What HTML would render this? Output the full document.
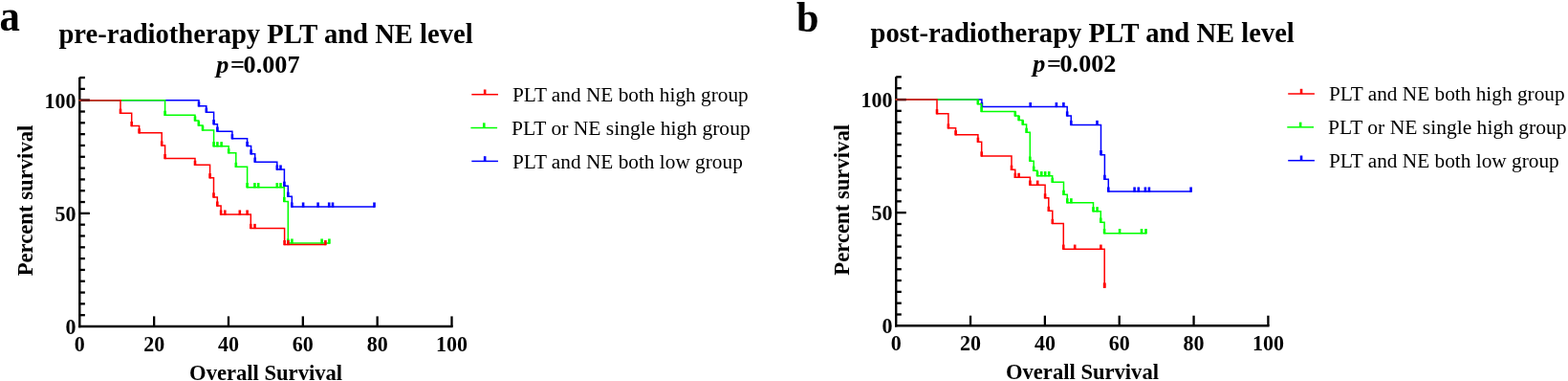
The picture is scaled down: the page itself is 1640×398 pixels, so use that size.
<!DOCTYPE html>
<html><head><meta charset="utf-8"><title>Kaplan-Meier survival curves</title>
<style>
html,body{margin:0;padding:0;background:#fff;}
body{width:1640px;height:398px;overflow:hidden;}
svg{display:block;}
</style></head>
<body>
<svg width="1640" height="398" viewBox="0 0 1640 398" font-family="'Liberation Serif', 'Times New Roman', serif" fill="#000">
<text transform="translate(-0.6,32.4) scale(0.91,1)" font-size="47" font-weight="bold">a</text>
<line x1="83.30" y1="80.87" x2="83.30" y2="342.20" stroke="#000" stroke-width="2.4"/>
<line x1="82.10" y1="341.00" x2="473.70" y2="341.00" stroke="#000" stroke-width="2.4"/>
<line x1="83.30" y1="329.19" x2="88.90" y2="329.19" stroke="#000" stroke-width="2.3"/>
<line x1="83.30" y1="317.37" x2="88.90" y2="317.37" stroke="#000" stroke-width="2.3"/>
<line x1="83.30" y1="305.56" x2="88.90" y2="305.56" stroke="#000" stroke-width="2.3"/>
<line x1="83.30" y1="293.74" x2="88.90" y2="293.74" stroke="#000" stroke-width="2.3"/>
<line x1="83.30" y1="281.93" x2="88.90" y2="281.93" stroke="#000" stroke-width="2.3"/>
<line x1="83.30" y1="270.11" x2="88.90" y2="270.11" stroke="#000" stroke-width="2.3"/>
<line x1="83.30" y1="258.30" x2="88.90" y2="258.30" stroke="#000" stroke-width="2.3"/>
<line x1="83.30" y1="246.48" x2="88.90" y2="246.48" stroke="#000" stroke-width="2.3"/>
<line x1="83.30" y1="234.67" x2="88.90" y2="234.67" stroke="#000" stroke-width="2.3"/>
<line x1="83.30" y1="222.85" x2="93.90" y2="222.85" stroke="#000" stroke-width="2.3"/>
<line x1="83.30" y1="211.03" x2="88.90" y2="211.03" stroke="#000" stroke-width="2.3"/>
<line x1="83.30" y1="199.22" x2="88.90" y2="199.22" stroke="#000" stroke-width="2.3"/>
<line x1="83.30" y1="187.41" x2="88.90" y2="187.41" stroke="#000" stroke-width="2.3"/>
<line x1="83.30" y1="175.59" x2="88.90" y2="175.59" stroke="#000" stroke-width="2.3"/>
<line x1="83.30" y1="163.78" x2="88.90" y2="163.78" stroke="#000" stroke-width="2.3"/>
<line x1="83.30" y1="151.96" x2="88.90" y2="151.96" stroke="#000" stroke-width="2.3"/>
<line x1="83.30" y1="140.15" x2="88.90" y2="140.15" stroke="#000" stroke-width="2.3"/>
<line x1="83.30" y1="128.33" x2="88.90" y2="128.33" stroke="#000" stroke-width="2.3"/>
<line x1="83.30" y1="116.52" x2="88.90" y2="116.52" stroke="#000" stroke-width="2.3"/>
<line x1="83.30" y1="104.70" x2="93.90" y2="104.70" stroke="#000" stroke-width="2.3"/>
<line x1="83.30" y1="92.88" x2="88.90" y2="92.88" stroke="#000" stroke-width="2.3"/>
<line x1="83.30" y1="81.07" x2="88.90" y2="81.07" stroke="#000" stroke-width="2.3"/>
<line x1="161.14" y1="341.00" x2="161.14" y2="330.40" stroke="#000" stroke-width="2.3"/>
<line x1="238.98" y1="341.00" x2="238.98" y2="330.40" stroke="#000" stroke-width="2.3"/>
<line x1="316.82" y1="341.00" x2="316.82" y2="330.40" stroke="#000" stroke-width="2.3"/>
<line x1="394.66" y1="341.00" x2="394.66" y2="330.40" stroke="#000" stroke-width="2.3"/>
<line x1="472.50" y1="341.00" x2="472.50" y2="330.40" stroke="#000" stroke-width="2.3"/>
<text transform="translate(79.60,112.70) scale(1,1.07)" text-anchor="end" font-size="22" font-weight="bold">100</text>
<text transform="translate(79.60,230.85) scale(1,1.07)" text-anchor="end" font-size="22" font-weight="bold">50</text>
<text transform="translate(79.60,349.00) scale(1,1.07)" text-anchor="end" font-size="22" font-weight="bold">0</text>
<text transform="translate(83.30,366.60) scale(1,1.07)" text-anchor="middle" font-size="22" font-weight="bold">0</text>
<text transform="translate(161.14,366.60) scale(1,1.07)" text-anchor="middle" font-size="22" font-weight="bold">20</text>
<text transform="translate(238.98,366.60) scale(1,1.07)" text-anchor="middle" font-size="22" font-weight="bold">40</text>
<text transform="translate(316.82,366.60) scale(1,1.07)" text-anchor="middle" font-size="22" font-weight="bold">60</text>
<text transform="translate(394.66,366.60) scale(1,1.07)" text-anchor="middle" font-size="22" font-weight="bold">80</text>
<text transform="translate(472.50,366.60) scale(1,1.07)" text-anchor="middle" font-size="22" font-weight="bold">100</text>
<text x="278.10" y="396.90" text-anchor="middle" font-size="22.6" font-weight="bold">Overall Survival</text>
<text transform="translate(34.00,209.50) rotate(-90)" x="0" y="0" text-anchor="middle" font-size="22.7" font-weight="bold">Percent survival</text>
<text x="278.00" y="44.70" text-anchor="middle" font-size="28.6" font-weight="bold">pre-radiotherapy PLT and NE level</text>
<text x="226.30" y="75.60" font-size="26.2" font-weight="bold" font-style="italic">p</text>
<text x="241.10" y="75.60" font-size="26.2" font-weight="bold">=</text>
<text x="254.60" y="75.60" font-size="26.2" font-weight="bold">0.007</text>
<line x1="493.30" y1="98.70" x2="521.00" y2="98.70" stroke="#ff0000" stroke-width="1.5"/>
<line x1="507.15" y1="98.70" x2="507.15" y2="93.50" stroke="#ff0000" stroke-width="2.6"/>
<text x="536.00" y="105.80" font-size="21.3">PLT and NE both high group</text>
<line x1="492.40" y1="133.55" x2="520.10" y2="133.55" stroke="#00ff00" stroke-width="1.5"/>
<line x1="506.25" y1="133.55" x2="506.25" y2="128.35" stroke="#00ff00" stroke-width="2.6"/>
<text x="535.10" y="140.65" font-size="21.55">PLT or NE single high group</text>
<line x1="493.30" y1="168.40" x2="521.00" y2="168.40" stroke="#0000ff" stroke-width="1.5"/>
<line x1="507.15" y1="168.40" x2="507.15" y2="163.20" stroke="#0000ff" stroke-width="2.6"/>
<text x="536.00" y="175.50" font-size="21.3">PLT and NE both low group</text>
<text transform="translate(833.0,32.7) scale(0.94,1)" font-size="45" font-weight="bold">b</text>
<g transform="translate(853.9,-0.7)">
<line x1="83.30" y1="80.87" x2="83.30" y2="342.20" stroke="#000" stroke-width="2.4"/>
<line x1="82.10" y1="341.00" x2="473.70" y2="341.00" stroke="#000" stroke-width="2.4"/>
<line x1="83.30" y1="329.19" x2="88.90" y2="329.19" stroke="#000" stroke-width="2.3"/>
<line x1="83.30" y1="317.37" x2="88.90" y2="317.37" stroke="#000" stroke-width="2.3"/>
<line x1="83.30" y1="305.56" x2="88.90" y2="305.56" stroke="#000" stroke-width="2.3"/>
<line x1="83.30" y1="293.74" x2="88.90" y2="293.74" stroke="#000" stroke-width="2.3"/>
<line x1="83.30" y1="281.93" x2="88.90" y2="281.93" stroke="#000" stroke-width="2.3"/>
<line x1="83.30" y1="270.11" x2="88.90" y2="270.11" stroke="#000" stroke-width="2.3"/>
<line x1="83.30" y1="258.30" x2="88.90" y2="258.30" stroke="#000" stroke-width="2.3"/>
<line x1="83.30" y1="246.48" x2="88.90" y2="246.48" stroke="#000" stroke-width="2.3"/>
<line x1="83.30" y1="234.67" x2="88.90" y2="234.67" stroke="#000" stroke-width="2.3"/>
<line x1="83.30" y1="222.85" x2="93.90" y2="222.85" stroke="#000" stroke-width="2.3"/>
<line x1="83.30" y1="211.03" x2="88.90" y2="211.03" stroke="#000" stroke-width="2.3"/>
<line x1="83.30" y1="199.22" x2="88.90" y2="199.22" stroke="#000" stroke-width="2.3"/>
<line x1="83.30" y1="187.41" x2="88.90" y2="187.41" stroke="#000" stroke-width="2.3"/>
<line x1="83.30" y1="175.59" x2="88.90" y2="175.59" stroke="#000" stroke-width="2.3"/>
<line x1="83.30" y1="163.78" x2="88.90" y2="163.78" stroke="#000" stroke-width="2.3"/>
<line x1="83.30" y1="151.96" x2="88.90" y2="151.96" stroke="#000" stroke-width="2.3"/>
<line x1="83.30" y1="140.15" x2="88.90" y2="140.15" stroke="#000" stroke-width="2.3"/>
<line x1="83.30" y1="128.33" x2="88.90" y2="128.33" stroke="#000" stroke-width="2.3"/>
<line x1="83.30" y1="116.52" x2="88.90" y2="116.52" stroke="#000" stroke-width="2.3"/>
<line x1="83.30" y1="104.70" x2="93.90" y2="104.70" stroke="#000" stroke-width="2.3"/>
<line x1="83.30" y1="92.88" x2="88.90" y2="92.88" stroke="#000" stroke-width="2.3"/>
<line x1="83.30" y1="81.07" x2="88.90" y2="81.07" stroke="#000" stroke-width="2.3"/>
<line x1="161.14" y1="341.00" x2="161.14" y2="330.40" stroke="#000" stroke-width="2.3"/>
<line x1="238.98" y1="341.00" x2="238.98" y2="330.40" stroke="#000" stroke-width="2.3"/>
<line x1="316.82" y1="341.00" x2="316.82" y2="330.40" stroke="#000" stroke-width="2.3"/>
<line x1="394.66" y1="341.00" x2="394.66" y2="330.40" stroke="#000" stroke-width="2.3"/>
<line x1="472.50" y1="341.00" x2="472.50" y2="330.40" stroke="#000" stroke-width="2.3"/>
<text transform="translate(79.60,112.70) scale(1,1.07)" text-anchor="end" font-size="22" font-weight="bold">100</text>
<text transform="translate(79.60,230.85) scale(1,1.07)" text-anchor="end" font-size="22" font-weight="bold">50</text>
<text transform="translate(79.60,349.00) scale(1,1.07)" text-anchor="end" font-size="22" font-weight="bold">0</text>
<text transform="translate(83.30,366.60) scale(1,1.07)" text-anchor="middle" font-size="22" font-weight="bold">0</text>
<text transform="translate(161.14,366.60) scale(1,1.07)" text-anchor="middle" font-size="22" font-weight="bold">20</text>
<text transform="translate(238.98,366.60) scale(1,1.07)" text-anchor="middle" font-size="22" font-weight="bold">40</text>
<text transform="translate(316.82,366.60) scale(1,1.07)" text-anchor="middle" font-size="22" font-weight="bold">60</text>
<text transform="translate(394.66,366.60) scale(1,1.07)" text-anchor="middle" font-size="22" font-weight="bold">80</text>
<text transform="translate(472.50,366.60) scale(1,1.07)" text-anchor="middle" font-size="22" font-weight="bold">100</text>
<text x="278.10" y="396.90" text-anchor="middle" font-size="22.6" font-weight="bold">Overall Survival</text>
<text transform="translate(34.00,209.50) rotate(-90)" x="0" y="0" text-anchor="middle" font-size="22.7" font-weight="bold">Percent survival</text>
<text x="278.30" y="44.70" text-anchor="middle" font-size="28.6" font-weight="bold">post-radiotherapy PLT and NE level</text>
<text x="226.30" y="75.60" font-size="26.2" font-weight="bold" font-style="italic">p</text>
<text x="241.10" y="75.60" font-size="26.2" font-weight="bold">=</text>
<text x="254.60" y="75.60" font-size="26.2" font-weight="bold">0.002</text>
<line x1="493.30" y1="98.70" x2="521.00" y2="98.70" stroke="#ff0000" stroke-width="1.5"/>
<line x1="507.15" y1="98.70" x2="507.15" y2="93.50" stroke="#ff0000" stroke-width="2.6"/>
<text x="536.00" y="105.80" font-size="21.3">PLT and NE both high group</text>
<line x1="492.40" y1="133.55" x2="520.10" y2="133.55" stroke="#00ff00" stroke-width="1.5"/>
<line x1="506.25" y1="133.55" x2="506.25" y2="128.35" stroke="#00ff00" stroke-width="2.6"/>
<text x="535.10" y="140.65" font-size="21.55">PLT or NE single high group</text>
<line x1="493.30" y1="168.40" x2="521.00" y2="168.40" stroke="#0000ff" stroke-width="1.5"/>
<line x1="507.15" y1="168.40" x2="507.15" y2="163.20" stroke="#0000ff" stroke-width="2.6"/>
<text x="536.00" y="175.50" font-size="21.3">PLT and NE both low group</text>
</g>
<path d="M83.30,104.70 H208.00 V110.85 H215.80 V117.15 H223.60 V129.65 H227.40 V137.15 H242.90 V144.75 H258.60 V152.55 H262.60 V160.85 H266.70 V169.15 H289.80 V177.05 H297.40 V194.25 H301.30 V205.25 H305.30 V216.05 H391.50" fill="none" stroke="#0000ff" stroke-width="1.5" stroke-linejoin="miter" stroke-linecap="square"/>
<line x1="208.00" y1="111.45" x2="208.00" y2="106.25" stroke="#0000ff" stroke-width="2.6"/>
<line x1="215.80" y1="117.75" x2="215.80" y2="112.55" stroke="#0000ff" stroke-width="2.6"/>
<line x1="223.60" y1="130.25" x2="223.60" y2="125.05" stroke="#0000ff" stroke-width="2.6"/>
<line x1="227.40" y1="137.75" x2="227.40" y2="132.55" stroke="#0000ff" stroke-width="2.6"/>
<line x1="242.90" y1="145.35" x2="242.90" y2="140.15" stroke="#0000ff" stroke-width="2.6"/>
<line x1="258.60" y1="153.15" x2="258.60" y2="147.95" stroke="#0000ff" stroke-width="2.6"/>
<line x1="262.60" y1="161.45" x2="262.60" y2="156.25" stroke="#0000ff" stroke-width="2.6"/>
<line x1="266.70" y1="169.75" x2="266.70" y2="164.55" stroke="#0000ff" stroke-width="2.6"/>
<line x1="289.80" y1="177.65" x2="289.80" y2="172.45" stroke="#0000ff" stroke-width="2.6"/>
<line x1="297.40" y1="194.85" x2="297.40" y2="189.65" stroke="#0000ff" stroke-width="2.6"/>
<line x1="301.30" y1="205.85" x2="301.30" y2="200.65" stroke="#0000ff" stroke-width="2.6"/>
<line x1="305.30" y1="216.65" x2="305.30" y2="211.45" stroke="#0000ff" stroke-width="2.6"/>
<line x1="293.50" y1="177.65" x2="293.50" y2="172.45" stroke="#0000ff" stroke-width="2.6"/>
<line x1="317.10" y1="216.65" x2="317.10" y2="211.45" stroke="#0000ff" stroke-width="2.6"/>
<line x1="332.60" y1="216.65" x2="332.60" y2="211.45" stroke="#0000ff" stroke-width="2.6"/>
<line x1="344.20" y1="216.65" x2="344.20" y2="211.45" stroke="#0000ff" stroke-width="2.6"/>
<line x1="348.00" y1="216.65" x2="348.00" y2="211.45" stroke="#0000ff" stroke-width="2.6"/>
<line x1="391.50" y1="216.65" x2="391.50" y2="211.45" stroke="#0000ff" stroke-width="2.6"/>
<path d="M83.30,104.70 H172.60 V120.35 H204.00 V125.95 H207.80 V131.05 H212.00 V135.95 H223.60 V152.75 H239.20 V159.75 H246.80 V174.35 H258.60 V195.65 H297.30 V210.45 H301.30 V254.05 H344.40" fill="none" stroke="#00ff00" stroke-width="1.5" stroke-linejoin="miter" stroke-linecap="square"/>
<line x1="172.60" y1="120.95" x2="172.60" y2="115.75" stroke="#00ff00" stroke-width="2.6"/>
<line x1="204.00" y1="126.55" x2="204.00" y2="121.35" stroke="#00ff00" stroke-width="2.6"/>
<line x1="207.80" y1="131.65" x2="207.80" y2="126.45" stroke="#00ff00" stroke-width="2.6"/>
<line x1="212.00" y1="136.55" x2="212.00" y2="131.35" stroke="#00ff00" stroke-width="2.6"/>
<line x1="223.60" y1="153.35" x2="223.60" y2="148.15" stroke="#00ff00" stroke-width="2.6"/>
<line x1="239.20" y1="160.35" x2="239.20" y2="155.15" stroke="#00ff00" stroke-width="2.6"/>
<line x1="246.80" y1="174.95" x2="246.80" y2="169.75" stroke="#00ff00" stroke-width="2.6"/>
<line x1="258.60" y1="196.25" x2="258.60" y2="191.05" stroke="#00ff00" stroke-width="2.6"/>
<line x1="297.30" y1="211.05" x2="297.30" y2="205.85" stroke="#00ff00" stroke-width="2.6"/>
<line x1="301.30" y1="254.65" x2="301.30" y2="249.45" stroke="#00ff00" stroke-width="2.6"/>
<line x1="227.40" y1="153.35" x2="227.40" y2="148.15" stroke="#00ff00" stroke-width="2.6"/>
<line x1="231.60" y1="153.35" x2="231.60" y2="148.15" stroke="#00ff00" stroke-width="2.6"/>
<line x1="266.40" y1="196.25" x2="266.40" y2="191.05" stroke="#00ff00" stroke-width="2.6"/>
<line x1="270.20" y1="196.25" x2="270.20" y2="191.05" stroke="#00ff00" stroke-width="2.6"/>
<line x1="289.80" y1="196.25" x2="289.80" y2="191.05" stroke="#00ff00" stroke-width="2.6"/>
<line x1="293.50" y1="196.25" x2="293.50" y2="191.05" stroke="#00ff00" stroke-width="2.6"/>
<line x1="305.40" y1="254.65" x2="305.40" y2="249.45" stroke="#00ff00" stroke-width="2.6"/>
<line x1="336.60" y1="254.65" x2="336.60" y2="249.45" stroke="#00ff00" stroke-width="2.6"/>
<line x1="344.40" y1="254.65" x2="344.40" y2="249.45" stroke="#00ff00" stroke-width="2.6"/>
<path d="M83.30,104.70 H126.00 V118.25 H137.70 V131.55 H145.60 V138.85 H169.20 V151.95 H172.60 V165.55 H204.00 V172.35 H219.60 V185.75 H223.50 V205.95 H227.30 V215.05 H231.10 V224.05 H262.30 V238.45 H297.60 V255.55 H340.40" fill="none" stroke="#ff0000" stroke-width="1.5" stroke-linejoin="miter" stroke-linecap="square"/>
<line x1="83.30" y1="104.70" x2="125.20" y2="104.70" stroke="#c8322a" stroke-width="1.5"/>
<line x1="84.50" y1="104.70" x2="93.90" y2="104.70" stroke="#6a0a06" stroke-width="2.2"/>
<line x1="126.00" y1="118.85" x2="126.00" y2="113.65" stroke="#ff0000" stroke-width="2.6"/>
<line x1="137.70" y1="132.15" x2="137.70" y2="126.95" stroke="#ff0000" stroke-width="2.6"/>
<line x1="145.60" y1="139.45" x2="145.60" y2="134.25" stroke="#ff0000" stroke-width="2.6"/>
<line x1="169.20" y1="152.55" x2="169.20" y2="147.35" stroke="#ff0000" stroke-width="2.6"/>
<line x1="172.60" y1="166.15" x2="172.60" y2="160.95" stroke="#ff0000" stroke-width="2.6"/>
<line x1="204.00" y1="172.95" x2="204.00" y2="167.75" stroke="#ff0000" stroke-width="2.6"/>
<line x1="219.60" y1="186.35" x2="219.60" y2="181.15" stroke="#ff0000" stroke-width="2.6"/>
<line x1="223.50" y1="206.55" x2="223.50" y2="201.35" stroke="#ff0000" stroke-width="2.6"/>
<line x1="227.30" y1="215.65" x2="227.30" y2="210.45" stroke="#ff0000" stroke-width="2.6"/>
<line x1="231.10" y1="224.65" x2="231.10" y2="219.45" stroke="#ff0000" stroke-width="2.6"/>
<line x1="262.30" y1="239.05" x2="262.30" y2="233.85" stroke="#ff0000" stroke-width="2.6"/>
<line x1="297.60" y1="256.15" x2="297.60" y2="250.95" stroke="#ff0000" stroke-width="2.6"/>
<line x1="235.30" y1="224.65" x2="235.30" y2="219.45" stroke="#ff0000" stroke-width="2.6"/>
<line x1="250.80" y1="224.65" x2="250.80" y2="219.45" stroke="#ff0000" stroke-width="2.6"/>
<line x1="258.60" y1="224.65" x2="258.60" y2="219.45" stroke="#ff0000" stroke-width="2.6"/>
<line x1="266.50" y1="239.05" x2="266.50" y2="233.85" stroke="#ff0000" stroke-width="2.6"/>
<line x1="301.40" y1="256.15" x2="301.40" y2="250.95" stroke="#ff0000" stroke-width="2.6"/>
<line x1="340.40" y1="256.15" x2="340.40" y2="250.95" stroke="#ff0000" stroke-width="2.6"/>
<path d="M937.20,104.10 H1026.90 V111.55 H1116.20 V120.95 H1120.30 V130.45 H1151.50 V161.65 H1155.40 V187.35 H1159.30 V200.05 H1245.60" fill="none" stroke="#0000ff" stroke-width="1.5" stroke-linejoin="miter" stroke-linecap="square"/>
<line x1="1026.90" y1="112.15" x2="1026.90" y2="106.95" stroke="#0000ff" stroke-width="2.6"/>
<line x1="1116.20" y1="121.55" x2="1116.20" y2="116.35" stroke="#0000ff" stroke-width="2.6"/>
<line x1="1120.30" y1="131.05" x2="1120.30" y2="125.85" stroke="#0000ff" stroke-width="2.6"/>
<line x1="1151.50" y1="162.25" x2="1151.50" y2="157.05" stroke="#0000ff" stroke-width="2.6"/>
<line x1="1155.40" y1="187.95" x2="1155.40" y2="182.75" stroke="#0000ff" stroke-width="2.6"/>
<line x1="1159.30" y1="200.65" x2="1159.30" y2="195.45" stroke="#0000ff" stroke-width="2.6"/>
<line x1="1077.70" y1="112.15" x2="1077.70" y2="106.95" stroke="#0000ff" stroke-width="2.6"/>
<line x1="1104.90" y1="112.15" x2="1104.90" y2="106.95" stroke="#0000ff" stroke-width="2.6"/>
<line x1="1112.40" y1="112.15" x2="1112.40" y2="106.95" stroke="#0000ff" stroke-width="2.6"/>
<line x1="1147.50" y1="131.05" x2="1147.50" y2="125.85" stroke="#0000ff" stroke-width="2.6"/>
<line x1="1186.60" y1="200.65" x2="1186.60" y2="195.45" stroke="#0000ff" stroke-width="2.6"/>
<line x1="1190.80" y1="200.65" x2="1190.80" y2="195.45" stroke="#0000ff" stroke-width="2.6"/>
<line x1="1197.90" y1="200.65" x2="1197.90" y2="195.45" stroke="#0000ff" stroke-width="2.6"/>
<line x1="1201.90" y1="200.65" x2="1201.90" y2="195.45" stroke="#0000ff" stroke-width="2.6"/>
<line x1="1245.60" y1="200.65" x2="1245.60" y2="195.45" stroke="#0000ff" stroke-width="2.6"/>
<path d="M937.20,104.10 H1022.80 V108.65 H1026.60 V116.45 H1061.80 V120.95 H1065.60 V125.55 H1069.70 V130.05 H1073.60 V138.35 H1077.30 V168.15 H1081.20 V178.25 H1085.00 V183.65 H1100.70 V190.25 H1112.50 V203.35 H1116.30 V211.75 H1143.50 V220.75 H1151.30 V232.15 H1155.10 V243.65 H1198.50" fill="none" stroke="#00ff00" stroke-width="1.5" stroke-linejoin="miter" stroke-linecap="square"/>
<line x1="1022.80" y1="109.25" x2="1022.80" y2="104.05" stroke="#00ff00" stroke-width="2.6"/>
<line x1="1026.60" y1="117.05" x2="1026.60" y2="111.85" stroke="#00ff00" stroke-width="2.6"/>
<line x1="1061.80" y1="121.55" x2="1061.80" y2="116.35" stroke="#00ff00" stroke-width="2.6"/>
<line x1="1065.60" y1="126.15" x2="1065.60" y2="120.95" stroke="#00ff00" stroke-width="2.6"/>
<line x1="1069.70" y1="130.65" x2="1069.70" y2="125.45" stroke="#00ff00" stroke-width="2.6"/>
<line x1="1073.60" y1="138.95" x2="1073.60" y2="133.75" stroke="#00ff00" stroke-width="2.6"/>
<line x1="1077.30" y1="168.75" x2="1077.30" y2="163.55" stroke="#00ff00" stroke-width="2.6"/>
<line x1="1081.20" y1="178.85" x2="1081.20" y2="173.65" stroke="#00ff00" stroke-width="2.6"/>
<line x1="1085.00" y1="184.25" x2="1085.00" y2="179.05" stroke="#00ff00" stroke-width="2.6"/>
<line x1="1100.70" y1="190.85" x2="1100.70" y2="185.65" stroke="#00ff00" stroke-width="2.6"/>
<line x1="1112.50" y1="203.95" x2="1112.50" y2="198.75" stroke="#00ff00" stroke-width="2.6"/>
<line x1="1116.30" y1="212.35" x2="1116.30" y2="207.15" stroke="#00ff00" stroke-width="2.6"/>
<line x1="1143.50" y1="221.35" x2="1143.50" y2="216.15" stroke="#00ff00" stroke-width="2.6"/>
<line x1="1151.30" y1="232.75" x2="1151.30" y2="227.55" stroke="#00ff00" stroke-width="2.6"/>
<line x1="1155.10" y1="244.25" x2="1155.10" y2="239.05" stroke="#00ff00" stroke-width="2.6"/>
<line x1="1089.30" y1="184.25" x2="1089.30" y2="179.05" stroke="#00ff00" stroke-width="2.6"/>
<line x1="1093.20" y1="184.25" x2="1093.20" y2="179.05" stroke="#00ff00" stroke-width="2.6"/>
<line x1="1097.20" y1="184.25" x2="1097.20" y2="179.05" stroke="#00ff00" stroke-width="2.6"/>
<line x1="1120.40" y1="212.35" x2="1120.40" y2="207.15" stroke="#00ff00" stroke-width="2.6"/>
<line x1="1147.60" y1="221.35" x2="1147.60" y2="216.15" stroke="#00ff00" stroke-width="2.6"/>
<line x1="1171.10" y1="244.25" x2="1171.10" y2="239.05" stroke="#00ff00" stroke-width="2.6"/>
<line x1="1194.00" y1="244.25" x2="1194.00" y2="239.05" stroke="#00ff00" stroke-width="2.6"/>
<line x1="1198.50" y1="244.25" x2="1198.50" y2="239.05" stroke="#00ff00" stroke-width="2.6"/>
<path d="M937.20,104.10 H980.00 V118.75 H991.90 V133.85 H999.60 V140.75 H1022.90 V148.25 H1026.70 V162.95 H1058.00 V177.35 H1061.80 V185.35 H1077.40 V193.15 H1093.10 V206.85 H1096.80 V220.35 H1100.80 V233.45 H1112.30 V260.15 H1155.20 V300.15" fill="none" stroke="#ff0000" stroke-width="1.5" stroke-linejoin="miter" stroke-linecap="square"/>
<line x1="937.20" y1="104.10" x2="979.20" y2="104.10" stroke="#c8322a" stroke-width="1.5"/>
<line x1="938.40" y1="104.10" x2="947.80" y2="104.10" stroke="#6a0a06" stroke-width="2.2"/>
<line x1="980.00" y1="119.35" x2="980.00" y2="114.15" stroke="#ff0000" stroke-width="2.6"/>
<line x1="991.90" y1="134.45" x2="991.90" y2="129.25" stroke="#ff0000" stroke-width="2.6"/>
<line x1="999.60" y1="141.35" x2="999.60" y2="136.15" stroke="#ff0000" stroke-width="2.6"/>
<line x1="1022.90" y1="148.85" x2="1022.90" y2="143.65" stroke="#ff0000" stroke-width="2.6"/>
<line x1="1026.70" y1="163.55" x2="1026.70" y2="158.35" stroke="#ff0000" stroke-width="2.6"/>
<line x1="1058.00" y1="177.95" x2="1058.00" y2="172.75" stroke="#ff0000" stroke-width="2.6"/>
<line x1="1061.80" y1="185.95" x2="1061.80" y2="180.75" stroke="#ff0000" stroke-width="2.6"/>
<line x1="1077.40" y1="193.75" x2="1077.40" y2="188.55" stroke="#ff0000" stroke-width="2.6"/>
<line x1="1093.10" y1="207.45" x2="1093.10" y2="202.25" stroke="#ff0000" stroke-width="2.6"/>
<line x1="1096.80" y1="220.95" x2="1096.80" y2="215.75" stroke="#ff0000" stroke-width="2.6"/>
<line x1="1100.80" y1="234.05" x2="1100.80" y2="228.85" stroke="#ff0000" stroke-width="2.6"/>
<line x1="1112.30" y1="260.75" x2="1112.30" y2="255.55" stroke="#ff0000" stroke-width="2.6"/>
<line x1="1155.20" y1="300.75" x2="1155.20" y2="295.55" stroke="#ff0000" stroke-width="2.6"/>
<line x1="1065.60" y1="185.95" x2="1065.60" y2="180.75" stroke="#ff0000" stroke-width="2.6"/>
<line x1="1085.20" y1="193.75" x2="1085.20" y2="188.55" stroke="#ff0000" stroke-width="2.6"/>
<line x1="1124.20" y1="260.75" x2="1124.20" y2="255.55" stroke="#ff0000" stroke-width="2.6"/>
<line x1="1151.40" y1="260.75" x2="1151.40" y2="255.55" stroke="#ff0000" stroke-width="2.6"/>
<line x1="1155.20" y1="300.75" x2="1155.20" y2="295.55" stroke="#ff0000" stroke-width="2.6"/>
</svg>
</body></html>
